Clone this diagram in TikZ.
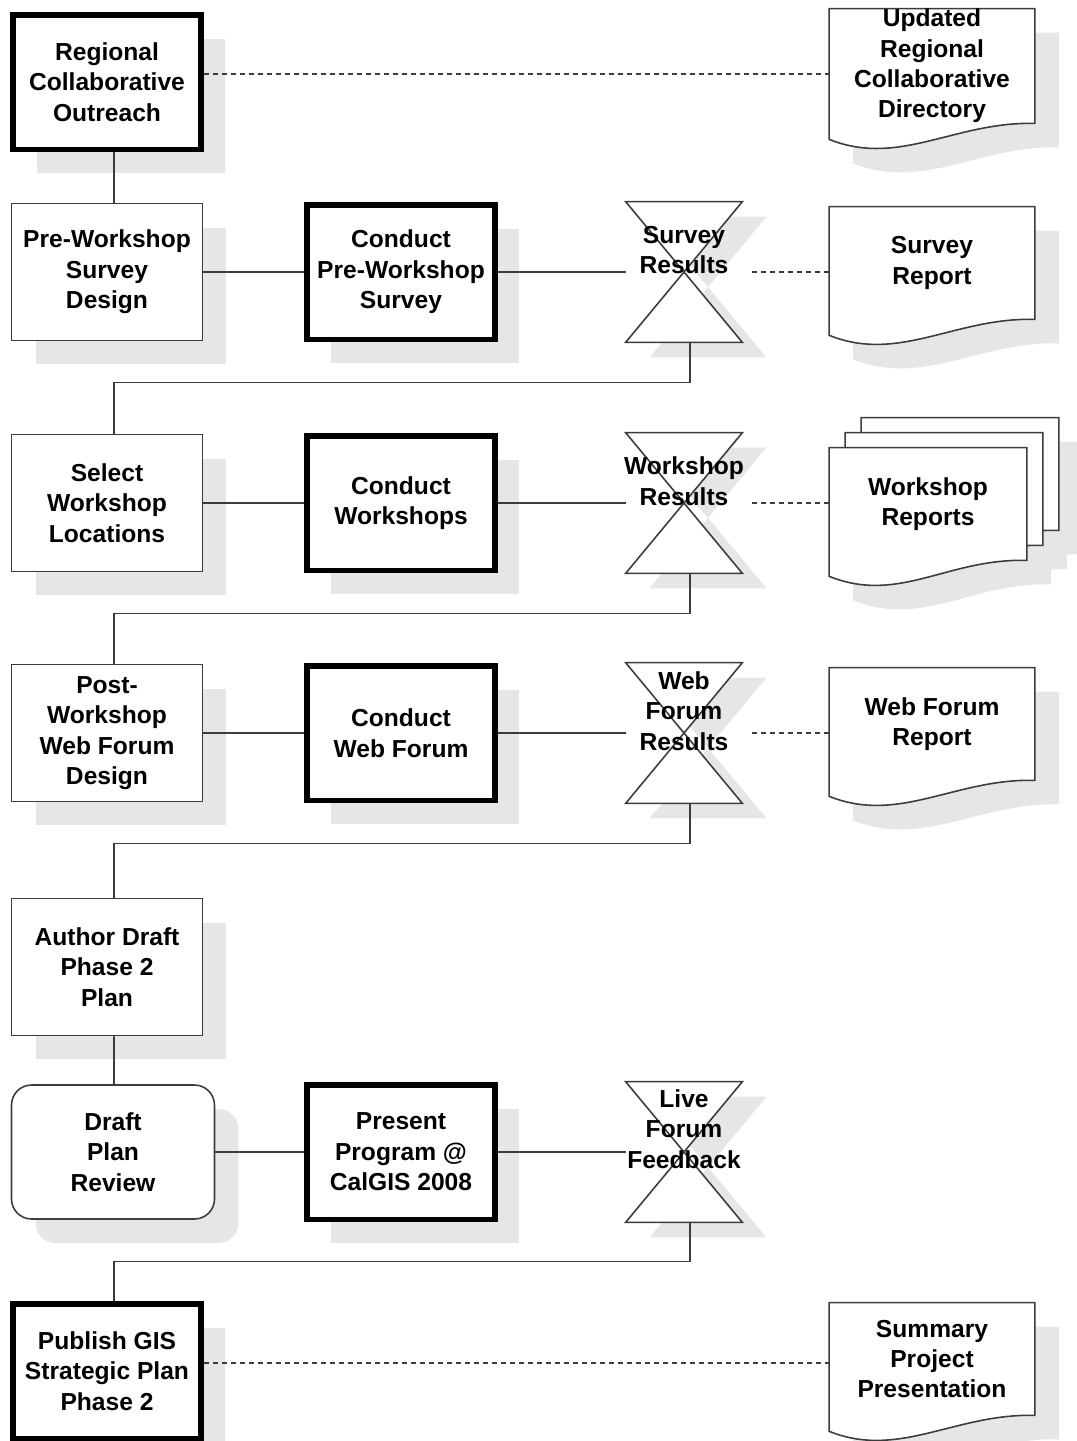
\documentclass[tikz,border=0pt]{standalone}
\usepackage{fontspec}
\setmainfont{Liberation Sans}
\usetikzlibrary{shadows,backgrounds}
\definecolor{ink}{RGB}{60,60,60}
\definecolor{haze}{RGB}{230,230,230}
\newcommand\boxfont{\fontsize{14pt}{17.3pt}\selectfont\bfseries}
% outline of a report page, shifted by #2
\newcommand\docline[3]{%
  \path[#3] ([shift={#2}]#1.north west) -- ([shift={#2}]#1.north east)
    -- ([shift={#2}]#1.south east)
    .. controls ([shift={#2},shift={(-1.6cm,0.04cm)}]#1.south east)
    and ([shift={#2},shift={(1.4cm,-0.88cm)}]#1.south west)
    .. ([shift={#2},yshift=-0.32cm]#1.south west) -- cycle;}
% collate mark
\newcommand\hourglass[3]{%
  \path[#3] ([shift={#2}]#1.north west) -- ([shift={#2}]#1.north east)
    -- ([shift={#2}]#1.south west) -- ([shift={#2}]#1.south east) -- cycle;}
\tikzset{
  task/.style={draw=ink,line width=0.9pt,fill=white,minimum width=3.82cm,
    minimum height=2.74cm,inner sep=2pt,align=center,font=\boxfont,
    drop shadow={shadow xshift=0.48cm,shadow yshift=-0.48cm,fill=haze,opacity=1}},
  key task/.style={task,draw=black,line width=3.4pt,minimum width=3.76cm,
    minimum height=2.7cm},
  review/.style={task,rounded corners=0.4cm,minimum width=4.06cm,minimum height=2.68cm},
  collate/.style={minimum width=2.32cm,minimum height=2.8cm,inner sep=0pt},
  report/.style={minimum width=4.1cm,minimum height=2.24cm,inner sep=2pt,
    align=center,font=\boxfont},
  tag/.style={align=center,font=\boxfont,inner sep=1pt},
  flow/.style={draw=ink,line width=0.9pt},
  link/.style={draw=ink,line width=0.8pt,dash pattern=on 0.1cm off 0.08cm},
  page/.style={draw=ink,fill=white,line width=0.9pt},
}
\begin{document}
\begin{tikzpicture}[x=0.02cm,y=-0.02cm]
  \useasboundingbox (0,0) rectangle (1076,1441);
  % left column
  \node[key task] (reg) at (107,82) {Regional\\Collaborative\\Outreach};
  \node[task] (pre) at (107,272) {Pre-Workshop\\Survey\\Design};
  \node[task] (sel) at (107,503) {Select\\Workshop\\Locations};
  \node[task] (post) at (107,733) {Post-\\Workshop\\Web Forum\\Design};
  \node[task] (auth) at (107,967) {Author Draft\\Phase 2\\Plan};
  \node[review] (rev) at (113,1152) {Draft\\Plan\\Review};
  \node[key task] (pub) at (107,1371) {Publish GIS\\Strategic Plan\\Phase 2};
  % conduct column
  \node[key task] (cps) at (401,272) {Conduct\\Pre-Workshop\\Survey};
  \node[key task] (cws) at (401,503) {Conduct\\Workshops};
  \node[key task] (cwf) at (401,733) {Conduct\\Web Forum};
  \node[key task] (pres) at (401,1152) {Present\\Program @\\CalGIS 2008};
  % results
  \node[collate] (sres) at (684,272) {};
  \node[collate] (wres) at (684,503) {};
  \node[collate] (wfres) at (684,733) {};
  \node[collate] (live) at (684,1152) {};
  \node[tag] (sresT) at ([yshift=0.44cm]sres.center) {Survey\\Results};
  \node[tag] (wresT) at ([yshift=0.44cm]wres.center) {Workshop\\Results};
  \node[tag] (wfresT) at ([yshift=0.44cm]wfres.center) {Web\\Forum\\Results};
  \node[tag] (liveT) at ([yshift=0.46cm]live.center) {Live\\Forum\\Feedback};
  % reports
  \node[report,inner ysep=0pt] (dir) at (932,66) {Updated\\Regional\\Collaborative\\Directory};
  \node[report] (srep) at (932,263) {Survey\\Report};
  \node[report,minimum width=3.94cm] (wrep) at (928,504) {Workshop\\Reports};
  \node[report] (wfrep) at (932,724) {Web Forum\\Report};
  \node[report] (sum) at (932,1359) {Summary\\Project\\Presentation};

  \begin{scope}[on background layer]
    \foreach \n in {sres,wres,wfres,live}
      \hourglass{\n}{(0.48cm,-0.3cm)}{fill=haze};
    \foreach \n in {sres,wres,wfres,live}
      \hourglass{\n}{(0,0)}{page};
    \foreach \n in {dir,srep,wfrep,sum}
      \docline{\n}{(0.48cm,-0.48cm)}{fill=haze};
    \foreach \s in {(1.12cm,0.12cm),(0.8cm,-0.18cm),(0.48cm,-0.48cm)}
      \docline{wrep}{\s}{fill=haze};
    \foreach \n in {dir,srep,wfrep,sum}
      \docline{\n}{(0,0)}{page};
    \foreach \s in {(0.64cm,0.6cm),(0.32cm,0.3cm),(0,0)}
      \docline{wrep}{\s}{page};
  \end{scope}

  % main flow
  \draw[flow] ([xshift=0.14cm]reg.south) -- ([xshift=0.14cm]pre.north);
  \draw[flow] (pre) -- (cps) -- (sres);
  \draw[flow] ([xshift=0.12cm]sres.south) -- ++(0,40) -| ([xshift=0.14cm]sel.north);
  \draw[flow] (sel) -- (cws) -- (wres);
  \draw[flow] ([xshift=0.12cm]wres.south) -- ++(0,40) -| ([xshift=0.14cm]post.north);
  \draw[flow] (post) -- (cwf) -- (wfres);
  \draw[flow] ([xshift=0.12cm]wfres.south) -- ++(0,40) -| ([xshift=0.14cm]auth.north);
  \draw[flow] ([xshift=0.14cm]auth.south) -- ([xshift=0.02cm]rev.north);
  \draw[flow] (rev) -- (pres) -- (live);
  \draw[flow] ([xshift=0.12cm]live.south) -- ++(0,39) -| ([xshift=0.14cm]pub.north);

  % outputs
  \coordinate (regR) at ([yshift=0.16cm]reg.east);
  \coordinate (pubR) at ([yshift=0.16cm]pub.east);
  \draw[link] (regR) -- (regR -| dir.west);
  \draw[link] ([xshift=0.2cm]sres.east) -- (sres.east -| srep.west);
  \draw[link] ([xshift=0.2cm]wres.east) -- (wres.east -| wrep.west);
  \draw[link] ([xshift=0.2cm]wfres.east) -- (wfres.east -| wfrep.west);
  \draw[link] (pubR) -- (pubR -| sum.west);
\end{tikzpicture}
\end{document}
